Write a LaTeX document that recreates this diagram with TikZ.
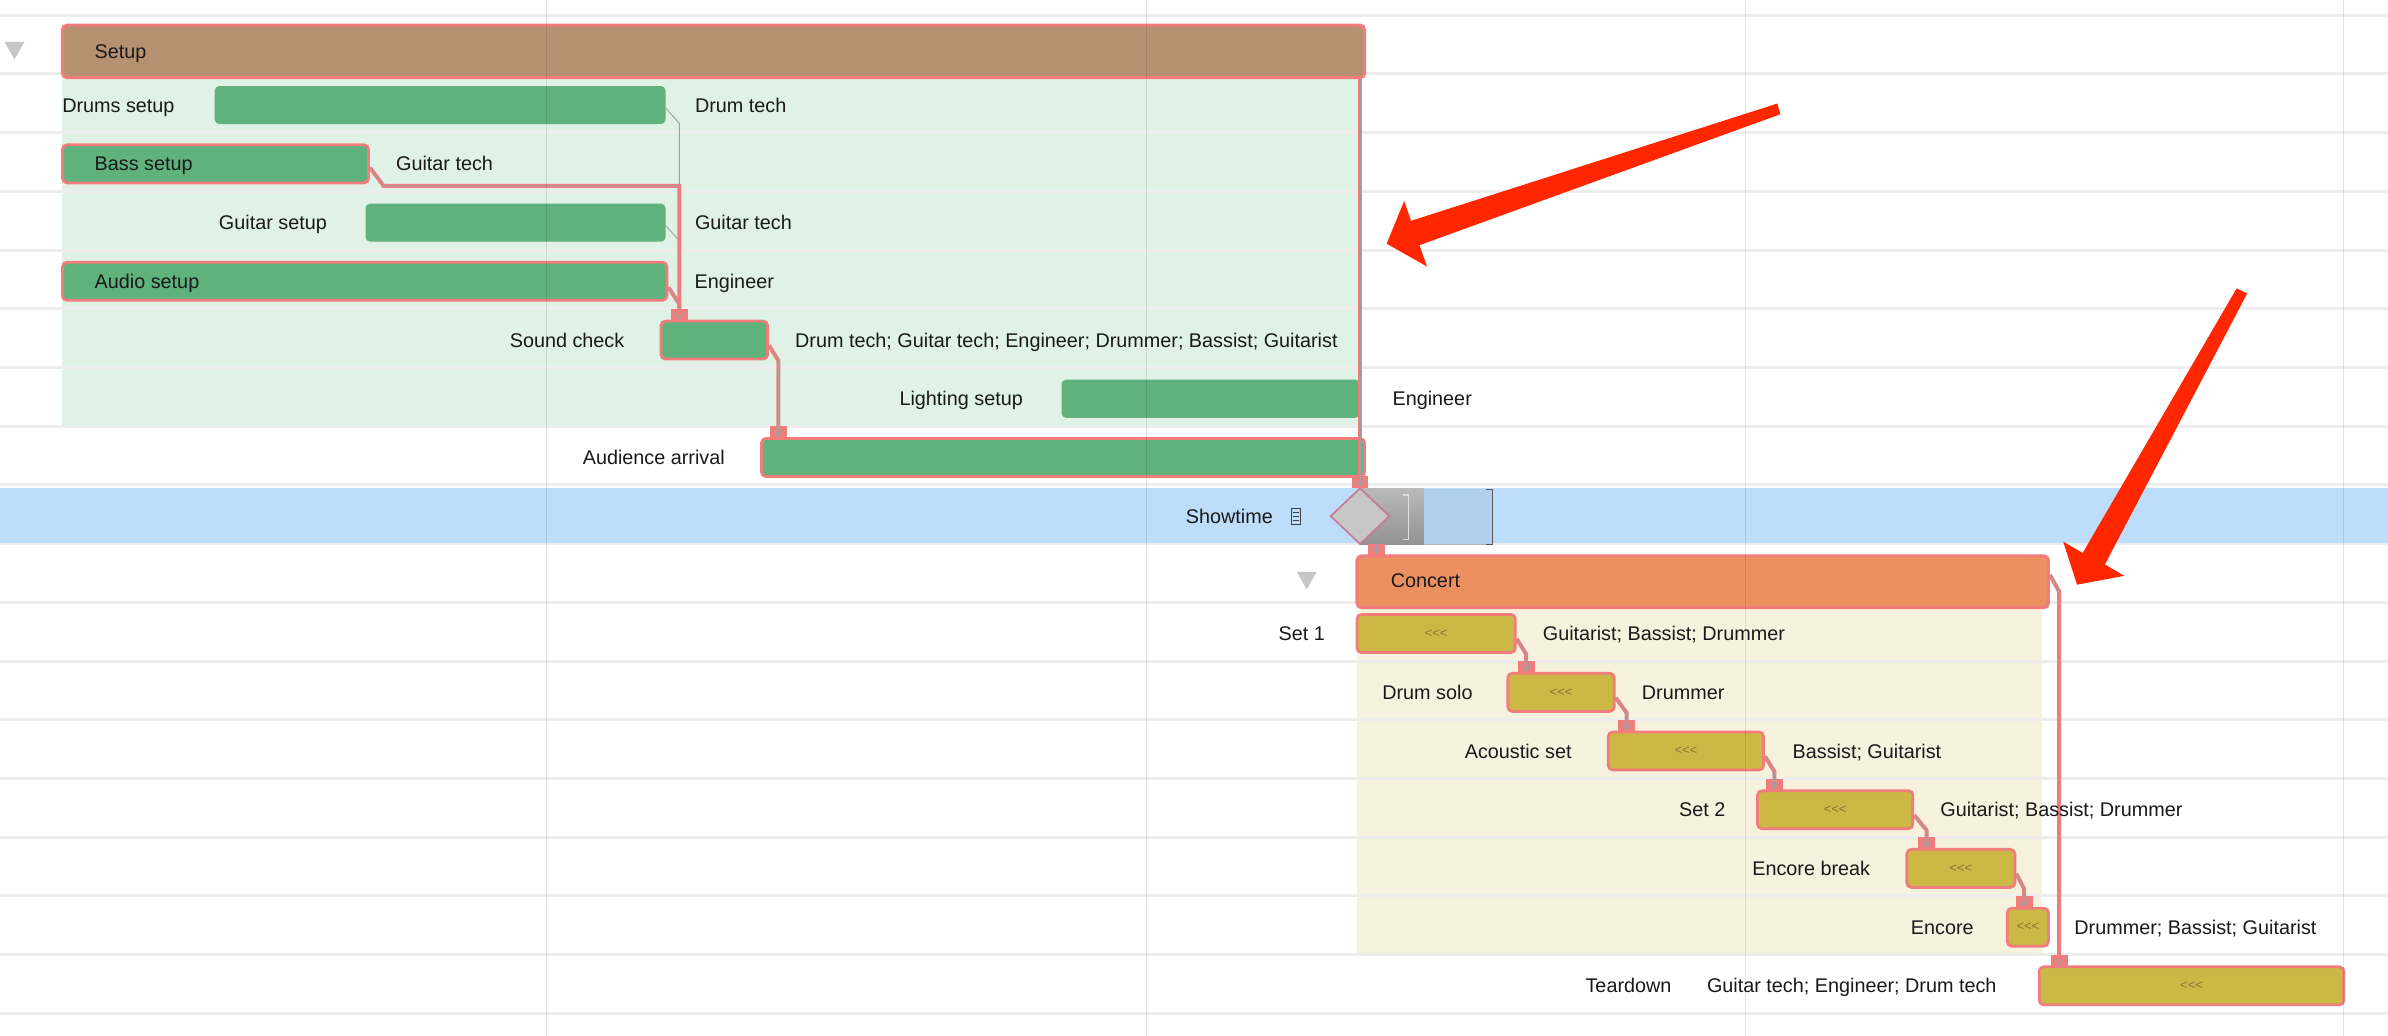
\documentclass[tikz,border=0pt]{standalone}
\usepackage{fontspec}
\setmainfont{Liberation Sans}
\usetikzlibrary{calc,shapes.geometric}
\definecolor{barG}{HTML}{5FB27B}
\definecolor{bgG}{HTML}{E0F2E6}
\definecolor{critc}{HTML}{F27C7C}
\definecolor{sumS}{HTML}{B59172}
\definecolor{sumC}{HTML}{EC9060}
\definecolor{bgC}{HTML}{F7F2DD}
\definecolor{barY}{HTML}{CBB845}
\definecolor{bandc}{HTML}{BEDDFB}
\definecolor{msbox}{HTML}{B2CFEE}
\definecolor{gridc}{HTML}{EDEDED}
\definecolor{redarr}{HTML}{FF2600}
\definecolor{chev}{HTML}{857535}
\definecolor{msedge}{HTML}{C77A95}
\newcommand{\depbox}[1]{%
  \fill[critc] ($(#1)+(-5.5,-7)$) rectangle ($(#1)+(5.5,0.5)$);
  \draw[gray!75, line width=0.6pt] ($(#1)+(-3.5,-5)$) -- ($(#1)+(0,-0.5)$) -- ($(#1)+(3.5,-5)$);
  \draw[gray!75, line width=0.6pt] ($(#1)+(0,-7)$) -- ($(#1)+(0,-0.5)$);}
\newcommand{\deplink}[3]{%
  \coordinate (T#3) at ($(#3.north west)+(#2,0)$);
  \draw[dep,crit] ($(#1.east)+(0,3.5)$) -- ($(#1.east -| T#3)+(0,13.5)$) -- ($(T#3)+(0,-6)$);
  \depbox{T#3}}
\newcommand{\chevs}{<{}<{}<}
\begin{document}
\begin{tikzpicture}[x=1pt,y=-1pt,
  lbl/.style={font=\fontsize{13}{15}\selectfont, inner sep=0pt, text=black!90, text height=9.3pt, text depth=0pt},
  gbar/.style={fill=barG, rounded corners=3pt, inner sep=0pt, minimum height=25pt},
  ybar/.style={fill=barY, rounded corners=3pt, inner sep=0pt, minimum height=25pt, font=\fontsize{8.5}{9}\selectfont, text=chev},
  critb/.style={draw=critc, line width=1.8pt},
  sumbar/.style={draw=critc, line width=2pt, rounded corners=3pt, inner sep=0pt},
  dep/.style={draw=gray!75, line width=0.6pt},
  crit/.style={preaction={draw=critc, line width=2.6pt}},
]
\useasboundingbox (0,0) rectangle (1568,680);
\fill[white] (0,0) rectangle (1568,680);
% backgrounds
\fill[bgG] (41,51) rectangle (893,281);
\fill[bgC] (891,399) rectangle (1341,627);
% row lines
\foreach \k in {0,...,17} \draw[gridc, line width=2pt] (0,{10+38.55*\k}) -- (1568,{10+38.55*\k});
% showtime band
\fill[bandc] (0,320.5) rectangle (1568,356.5);
% summary bars
\node[sumbar, fill=sumS, minimum width=855pt, minimum height=34.5pt] (setup) at (468.5,33.75) {};
\node[sumbar, fill=sumC, minimum width=454pt, minimum height=34pt] (concert) at (1118,382) {};
% task bars
\node[gbar, minimum width=296pt] (drums) at (289,69) {};
\node[gbar, critb, minimum width=201pt] (bass) at (141.5,107.6) {};
\node[gbar, minimum width=197pt] (guitar) at (338.5,146.2) {};
\node[gbar, critb, minimum width=397pt] (audio) at (239.5,184.7) {};
\node[gbar, critb, minimum width=70pt] (sound) at (469,223.3) {};
\node[gbar, minimum width=196pt] (lighting) at (795,261.8) {};
\node[gbar, critb, minimum width=396pt] (aud) at (698,300.4) {};
\node[ybar, critb, minimum width=104pt] (set1) at (943,416) {\chevs};
\node[ybar, critb, minimum width=70pt] (drumsolo) at (1025,454.6) {\chevs};
\node[ybar, critb, minimum width=102pt] (acoustic) at (1107,493.1) {\chevs};
\node[ybar, critb, minimum width=102pt] (set2) at (1205,531.7) {\chevs};
\node[ybar, critb, minimum width=71pt] (encbreak) at (1287.5,570.2) {\chevs};
\node[ybar, critb, minimum width=27pt] (encore) at (1331.5,608.8) {\chevs};
\node[ybar, critb, minimum width=200pt] (teardown) at (1439,647.3) {\chevs};
% milestone
\shade[top color=gray!55, bottom color=gray!85] (893,321) rectangle (935,357.5);
\draw[white!75!gray, line width=0.8pt] (921,325) -- (925,325) -- (925,354) -- (921,354);
\fill[msbox] (935,321) rectangle (980,357.5);
\draw[gray!60, line width=0.6pt] (935,357.2) -- (980,357.2);
\draw[black!65, line width=1pt] (976,321.5) -- (980,321.5) -- (980,357.5) -- (976,357.5);
\node[diamond, draw=msedge, fill=gray!45, line width=1.1pt, inner sep=0pt, minimum width=39pt, minimum height=37pt] (ms) at (893,338.9) {};
% showtime icon
\draw[black!75, line width=0.5pt] (848,334) rectangle (854,344);
\foreach \yy in {336.5,339,341.5} \draw[black!75, line width=0.45pt] (849.3,\yy) -- (852.7,\yy);
% triangles
\fill[gray!45] (3,27.5) -- (16,27.5) -- (9.5,39) -- cycle;
\fill[gray!45] (851.5,375.5) -- (864.5,375.5) -- (858,387) -- cycle;
% connectors in the setup group
\coordinate (Tsound) at ($(sound.north west)+(13,0)$);
\coordinate (bk) at ($(bass.east)+(9,14.5)$);
\draw[dep] ($(drums.east)+(0,2)$) -- ($(drums.east -| Tsound)+(0,12)$) -- (bk -| Tsound);
\draw[dep] ($(guitar.east)+(0,2)$) -- ($(guitar.east -| Tsound)+(0,12)$);
\draw[dep,crit] ($(bass.east)+(0,2.5)$) -- (bk) -- (bk -| Tsound) -- ($(Tsound)+(0,-6)$);
\draw[dep,crit] ($(audio.east)+(0,4)$) -- ($(audio.east -| Tsound)+(0,15)$) -- ($(Tsound)+(0,-6)$);
\depbox{Tsound}
\deplink{sound}{12}{aud}
% setup -> milestone
\coordinate (Tms) at (ms.north);
\draw[dep,crit] (setup.south east -| Tms) -- ($(Tms)+(0,-6)$);
\depbox{Tms}
% milestone -> concert
\coordinate (Tcon) at ($(concert.north west)+(14,0)$);
\draw[dep,crit] (ms.south -| Tcon) -- ($(Tcon)+(0,-1)$);
\depbox{Tcon}
% concert -> teardown
\coordinate (Ttear) at ($(teardown.north west)+(14,0)$);
\draw[dep,crit] ($(concert.east)+(0,-4.5)$) -- ($(concert.east -| Ttear)+(0,6.5)$) -- ($(Ttear)+(0,-6)$);
\depbox{Ttear}
% concert chain
\deplink{set1}{13}{drumsolo}
\deplink{drumsolo}{13}{acoustic}
\deplink{acoustic}{12}{set2}
\deplink{set2}{14}{encbreak}
\deplink{encbreak}{12}{encore}
% labels
\node[lbl, anchor=west] (lsetup) at (62,33.5) {Setup};
\node[lbl, anchor=east] (ldrums) at ($(drums.west)+(-26,0)$) {Drums setup};
\node[lbl, anchor=west] (rdrums) at ($(drums.east)+(19,0)$) {Drum tech};
\node[lbl, anchor=west] (lbass) at (62,107.6) {Bass setup};
\node[lbl, anchor=west] (rbass) at ($(bass.east)+(17,0)$) {Guitar tech};
\node[lbl, anchor=east] (lguitar) at ($(guitar.west)+(-25,0)$) {Guitar setup};
\node[lbl, anchor=west] (rguitar) at ($(guitar.east)+(19,0)$) {Guitar tech};
\node[lbl, anchor=west] (laudio) at (62,184.7) {Audio setup};
\node[lbl, anchor=west] (raudio) at ($(audio.east)+(17,0)$) {Engineer};
\node[lbl, anchor=east] (lsound) at ($(sound.west)+(-23,0)$) {Sound check};
\node[lbl, anchor=west] (rsound) at ($(sound.east)+(17,0)$) {Drum tech; Guitar tech; Engineer; Drummer; Bassist; Guitarist};
\node[lbl, anchor=east] (llight) at ($(lighting.west)+(-25,0)$) {Lighting setup};
\node[lbl, anchor=west] (rlight) at ($(lighting.east)+(21,0)$) {Engineer};
\node[lbl, anchor=east] (laud) at ($(aud.west)+(-23,0)$) {Audience arrival};
\node[lbl, anchor=east] (lshow) at (836,338.9) {Showtime};
\node[lbl, anchor=west] (lconcert) at (913,381) {Concert};
\node[lbl, anchor=east] (lset1) at ($(set1.west)+(-20,0)$) {Set 1};
\node[lbl, anchor=west] (rset1) at ($(set1.east)+(17,0)$) {Guitarist; Bassist; Drummer};
\node[lbl, anchor=east] (ldsolo) at ($(drumsolo.west)+(-22,0)$) {Drum solo};
\node[lbl, anchor=west] (rdsolo) at ($(drumsolo.east)+(17,0)$) {Drummer};
\node[lbl, anchor=east] (lacou) at ($(acoustic.west)+(-23,0)$) {Acoustic set};
\node[lbl, anchor=west] (racou) at ($(acoustic.east)+(18,0)$) {Bassist; Guitarist};
\node[lbl, anchor=east] (lset2) at ($(set2.west)+(-20,0)$) {Set 2};
\node[lbl, anchor=west] (rset2) at ($(set2.east)+(17,0)$) {Guitarist; Bassist; Drummer};
\node[lbl, anchor=east] (lencb) at ($(encbreak.west)+(-23,0)$) {Encore break};
\node[lbl, anchor=east] (lenc) at ($(encore.west)+(-21,0)$) {Encore};
\node[lbl, anchor=west] (renc) at ($(encore.east)+(16,0)$) {Drummer; Bassist; Guitarist};
\node[lbl, anchor=east] (rtear) at ($(teardown.west)+(-27,0)$) {Guitar tech; Engineer; Drum tech};
\node[lbl, anchor=east] (ltear) at ($(rtear.west)+(-23,0)$) {Teardown};
% vertical grid lines
\foreach \xx in {359,753,1146,1539} \draw[black, opacity=0.1, line width=0.8pt] (\xx,0) -- (\xx,680);
% red arrows
\fill[redarr] (1167,68) -- (926.5,145) -- (922,132) -- (910.5,160) -- (937,175) -- (932,161) -- (1169,75) -- cycle;
\fill[redarr] (1468.6,189.4) -- (1367.5,363.1) -- (1354.7,355.6) -- (1363.8,383.9) -- (1394.8,378.1) -- (1382.1,370.6) -- (1475.5,192.7) -- cycle;
\end{tikzpicture}
\end{document}
